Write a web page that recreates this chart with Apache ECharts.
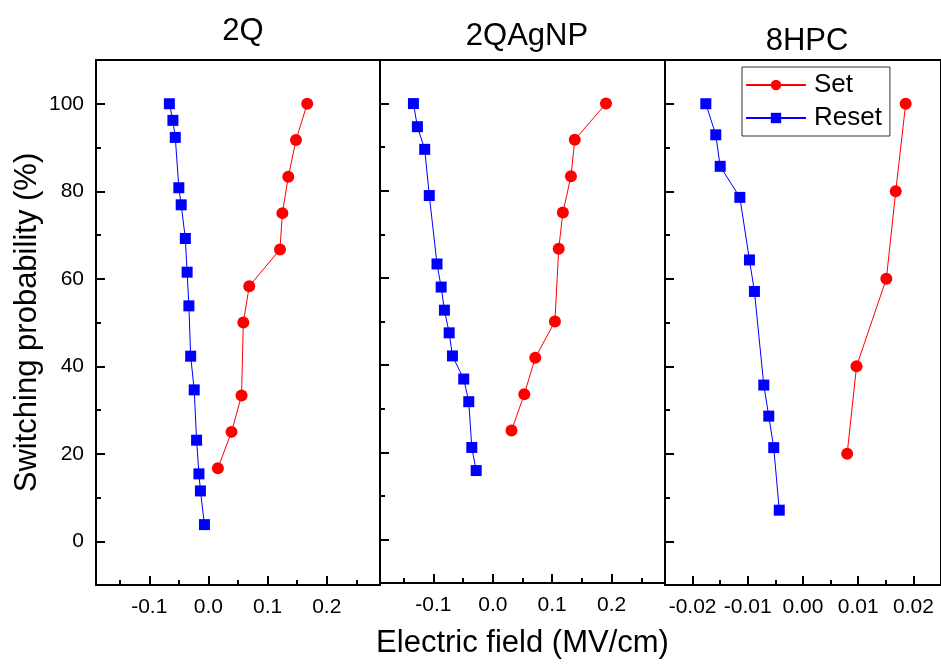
<!DOCTYPE html>
<html>
<head>
<meta charset="utf-8">
<script src="https://cdn.jsdelivr.net/npm/echarts@6/dist/echarts.min.js"></script>
<style>
html,body{margin:0;padding:0;background:#fff;}
#chart{width:941px;height:664px;}
</style>
</head>
<body>
<div id="chart"></div>
<script>
// panel names
var panelTitles = ['2Q', '2QAgNP', '8HPC'];

// 2Q
var q2SetX = [0.016, 0.039, 0.056, 0.059, 0.069, 0.121, 0.125, 0.135, 0.148, 0.167];
var q2SetY = [16.7, 25.0, 33.3, 50.0, 58.3, 66.7, 75.0, 83.3, 91.7, 100];
var q2ResetX = [-0.066, -0.060, -0.056, -0.050, -0.046, -0.039, -0.036, -0.033, -0.030, -0.024, -0.020, -0.016, -0.0135, -0.0067];
var q2ResetY = [100, 96.2, 92.3, 80.8, 76.9, 69.2, 61.5, 53.8, 42.3, 34.6, 23.1, 15.4, 11.5, 3.8];

// 2QAgNP
var agSetX = [0.0315, 0.053, 0.0715, 0.1046, 0.111, 0.118, 0.1316, 0.138, 0.1906];
var agSetY = [25.0, 33.3, 41.7, 50.0, 66.7, 75.0, 83.3, 91.7, 100];
var agResetX = [-0.1337, -0.127, -0.1147, -0.107, -0.094, -0.087, -0.0815, -0.0735, -0.068, -0.049, -0.0405, -0.0354, -0.028];
var agResetY = [100, 94.7, 89.5, 78.9, 63.2, 57.9, 52.6, 47.4, 42.1, 36.8, 31.6, 21.1, 15.8];

// 8HPC
var hpcSetX = [0.0080, 0.0097, 0.0151, 0.0168, 0.0186];
var hpcSetY = [20, 40, 60, 80, 100];
var hpcResetX = [-0.0176, -0.0158, -0.0150, -0.01144, -0.0097, -0.0088, -0.0071, -0.0062, -0.0053, -0.0043];
var hpcResetY = [100, 92.9, 85.7, 78.6, 64.3, 57.1, 35.7, 28.6, 21.4, 7.1];

// ticks
var yMajor = [0, 20, 40, 60, 80, 100];
var yMinor = [10, 30, 50, 70, 90];
var xMajorWide = [-0.1, 0, 0.1, 0.2];
var xMinorWide = [-0.15, -0.05, 0.05, 0.15, 0.25];
var xMajorNarrow = [-0.02, -0.01, 0, 0.01, 0.02];
var xMinorNarrow = [-0.015, -0.005, 0.005, 0.015];

var switchingChart = {
	font: 'Liberation Sans, Arial, sans-serif',
	red: '#FF0000',
	blue: '#0000FF',
	zip: function(xs, ys){
		var out = [];
		for (var i = 0; i < xs.length; i++) out.push([xs[i], ys[i]]);
		return out;
	},
	init: function(){
		var self = this;
		var panels = [
			{left: 96, width: 284, min: -0.19, max: 0.29, major: xMajorWide, minor: xMinorWide, digits: 1, titleX: 238, titleTop: 11,
				set: self.zip(q2SetX, q2SetY), reset: self.zip(q2ResetX, q2ResetY)},
			{left: 380, width: 285, min: -0.19, max: 0.29, major: xMajorWide, minor: xMinorWide, digits: 1, titleX: 522, titleTop: 16,
				set: self.zip(agSetX, agSetY), reset: self.zip(agResetX, agResetY)},
			{left: 665, width: 284, min: -0.025, max: 0.025, major: xMajorNarrow, minor: xMinorNarrow, digits: 2, titleX: 802, titleTop: 21,
				set: self.zip(hpcSetX, hpcSetY), reset: self.zip(hpcResetX, hpcResetY)}
		];
		var grid = [], xAxis = [], yAxis = [], series = [], title = [];
		var tickStyle = {color: '#000', width: 2};
		panels.forEach(function(p, i){
			grid.push({left: p.left, top: 60, width: p.width, height: 525, show: true,
				borderColor: '#000', borderWidth: 2, backgroundColor: 'transparent'});
			title.push({text: panelTitles[i], left: p.titleX, top: p.titleTop, textAlign: 'center',
				textStyle: {fontFamily: self.font, fontSize: 31, fontWeight: 'normal', color: '#000'}});
			var digits = p.digits;
			xAxis.push({
				type: 'value', gridIndex: i, min: p.min, max: p.max, position: 'bottom',
				axisLine: {show: true, onZero: false, lineStyle: tickStyle},
				axisTick: {show: true, inside: true, length: 9, lineStyle: tickStyle, customValues: p.major},
				axisLabel: {show: true, margin: 12, customValues: p.major, fontFamily: self.font, fontSize: 21, color: '#000',
					formatter: function(v){ return v.toFixed(digits); }},
				splitLine: {show: false},
				name: i === 1 ? 'Electric field (MV/cm)' : '', nameLocation: 'middle', nameGap: 45,
				nameTextStyle: {fontFamily: self.font, fontSize: 31, color: '#000'}
			});
			xAxis.push({
				type: 'value', gridIndex: i, min: p.min, max: p.max, position: 'bottom',
				axisLine: {show: false, onZero: false},
				axisTick: {show: true, inside: true, length: 5, lineStyle: tickStyle, customValues: p.minor},
				axisLabel: {show: false}, splitLine: {show: false}
			});
			yAxis.push({
				type: 'value', gridIndex: i, min: -10, max: 110, position: 'left',
				axisLine: {show: true, onZero: false, lineStyle: tickStyle},
				axisTick: {show: true, inside: true, length: 9, lineStyle: tickStyle, customValues: yMajor},
				axisLabel: {show: i === 0, margin: 12, customValues: yMajor, fontFamily: self.font, fontSize: 21, color: '#000'},
				splitLine: {show: false},
				name: i === 0 ? 'Switching probability (%)' : '', nameLocation: 'middle', nameGap: 53,
				nameTextStyle: {fontFamily: self.font, fontSize: 31, color: '#000'}
			});
			yAxis.push({
				type: 'value', gridIndex: i, min: -10, max: 110, position: 'left',
				axisLine: {show: false, onZero: false},
				axisTick: {show: true, inside: true, length: 5, lineStyle: tickStyle, customValues: yMinor},
				axisLabel: {show: false}, splitLine: {show: false}
			});
			series.push({
				name: 'Set', type: 'line', xAxisIndex: i * 2, yAxisIndex: i * 2, data: p.set,
				symbol: 'circle', symbolSize: 12,
				lineStyle: {color: self.red, width: 1}, itemStyle: {color: self.red}
			});
			series.push({
				name: 'Reset', type: 'line', xAxisIndex: i * 2, yAxisIndex: i * 2, data: p.reset,
				symbol: 'rect', symbolSize: 11,
				lineStyle: {color: self.blue, width: 1}, itemStyle: {color: self.blue}
			});
		});
		var myChart = echarts.init(document.getElementById('chart'));
		myChart.setOption({
			animation: false,
			backgroundColor: '#fff',
			title: title,
			legend: {
				data: ['Set', 'Reset'], orient: 'vertical', left: 742, top: 67,
				itemWidth: 60, itemHeight: 13, itemGap: 7,
				padding: [5, 8, 5, 3], borderColor: '#333', borderWidth: 1,
				textStyle: {fontFamily: self.font, fontSize: 26, lineHeight: 26, color: '#000', padding: [0, 0, 0, 3]}
			},
			grid: grid,
			xAxis: xAxis,
			yAxis: yAxis,
			series: series
		}, true);
	}
};
switchingChart.init();
</script>
</body>
</html>
